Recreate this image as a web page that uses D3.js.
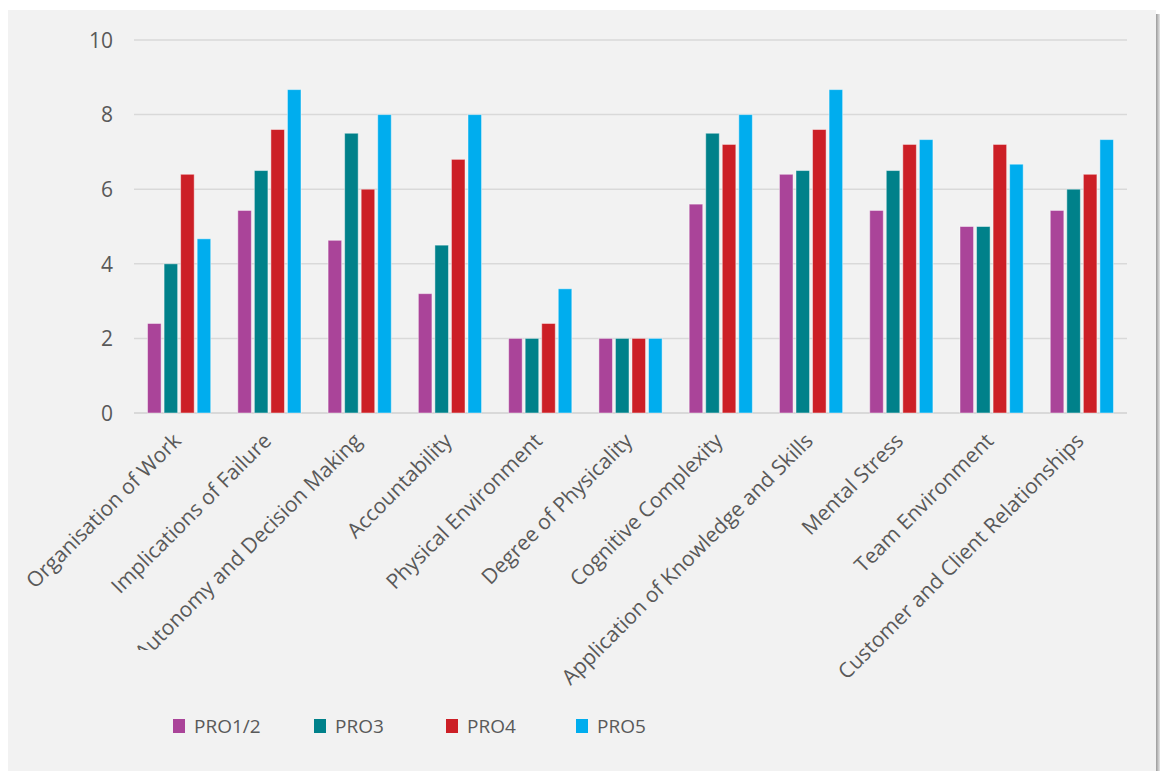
<!DOCTYPE html>
<html>
<head>
<meta charset="utf-8">
<script src="https://cdn.jsdelivr.net/npm/d3@7"></script>
<style>
  body { margin: 0; background: #ffffff; }
  svg text { font-family: "Open Sans", "Noto Sans", sans-serif; fill: #595959; }
</style>
</head>
<body>
<svg id="chart"></svg>
<script>
// 数据
const categories = ["Organisation of Work", "Implications of Failure", "Autonomy and Decision Making",
    "Accountability", "Physical Environment", "Degree of Physicality", "Cognitive Complexity",
    "Application of Knowledge and Skills", "Mental Stress", "Team Environment",
    "Customer and Client Relationships"];
const series = ["PRO1/2", "PRO3", "PRO4", "PRO5"];
const pro12 = [2.4, 5.43, 4.63, 3.2, 2, 2, 5.6, 6.4, 5.43, 5, 5.43];
const pro3 = [4, 6.5, 7.5, 4.5, 2, 2, 7.5, 6.5, 6.5, 5, 6];
const pro4 = [6.4, 7.6, 6, 6.8, 2.4, 2, 7.2, 7.6, 7.2, 7.2, 6.4];
const pro5 = [4.67, 8.67, 8, 8, 3.33, 2, 8, 8.67, 7.33, 6.67, 7.33];
const yTicks = [0, 2, 4, 6, 8, 10];
const colors = ["#aa4499", "#00818a", "#cc1f26", "#00adee"];

let width = 1160, height = 771;
let svg = d3.select('#chart').attr('width', width).attr('height', height);

// 背景面板 + 右侧阴影
let defs = svg.append('defs');
let grad = defs.append('linearGradient').attr('id', 'shadow').attr('x1', 0).attr('x2', 1);
grad.append('stop').attr('offset', 0).attr('stop-color', '#9a9a9a');
grad.append('stop').attr('offset', 1).attr('stop-color', '#e6e6e6');
svg.append('rect').attr('x', 1156).attr('y', 14).attr('width', 4).attr('height', height - 14)
    .attr('fill', 'url(#shadow)');
svg.append('rect').attr('x', 8).attr('y', 10).attr('width', 1148).attr('height', height - 10)
    .attr('fill', '#f2f2f2');

// 比例尺
let x0 = d3.scaleBand().domain(categories).range([134, 1127]).paddingInner(0.3).paddingOuter(0.15);
let x1 = d3.scaleBand().domain(series).range([0, x0.bandwidth()]).paddingInner(0.18).paddingOuter(0);
let y = d3.scaleLinear().domain([0, 10]).range([413, 40]);

// 网格线
svg.append('g')
    .selectAll('line')
    .data(yTicks)
    .join('line')
    .attr('x1', 134).attr('x2', 1127)
    .attr('y1', d => y(d)).attr('y2', d => y(d))
    .attr('stroke', '#d9d9d9')
    .attr('stroke-width', d => d === 0 ? 2 : 1.5);

// y 轴
let yAxis = svg.append('g')
    .attr('transform', 'translate(113,0)')
    .call(d3.axisLeft(y).tickValues(yTicks).tickSize(0).tickPadding(0));
yAxis.select('.domain').remove();
yAxis.selectAll('text').style('font-size', '21px').attr('dy', '0.35em').style('fill', '#595959');

// 柱子
let rows = categories.map((c, i) => ({ cat: c, vals: [pro12[i], pro3[i], pro4[i], pro5[i]] }));
svg.append('g')
    .selectAll('g')
    .data(rows)
    .join('g')
    .attr('transform', d => `translate(${x0(d.cat)},0)`)
    .selectAll('rect')
    .data(d => d.vals.map((v, j) => ({ s: series[j], v: v, c: colors[j] })))
    .join('rect')
    .attr('x', d => x1(d.s))
    .attr('width', x1.bandwidth())
    .attr('y', d => y(d.v))
    .attr('height', d => y(0) - y(d.v))
    .attr('fill', d => d.c)
    .attr('stroke', 'rgba(255,255,255,0.45)')
    .attr('stroke-width', 1);

// x 轴标签（旋转 -45 度）
// Excel 把第三个标签底部截断了，这里用 clipPath 模仿
defs.append('clipPath').attr('id', 'labelclip')
    .append('rect').attr('x', 0).attr('y', 0).attr('width', width).attr('height', 650);
svg.append('g')
    .attr('class', 'xlabels')
    .selectAll('g')
    .data(categories)
    .join('g')
    .attr('clip-path', (d, i) => i === 2 ? 'url(#labelclip)' : null)
    .append('text')
    .attr('transform', d => `translate(${x0(d) + x0.bandwidth() / 2 - 2},437) rotate(-45)`)
    .attr('text-anchor', 'end')
    .attr('dy', '0.35em')
    .style('font-size', '21px')
    .text(d => d);

// 图例
let legendX = [173, 314, 446, 576];
let legend = svg.append('g')
    .selectAll('g')
    .data(series)
    .join('g')
    .attr('transform', (d, i) => `translate(${legendX[i]},719)`);
legend.append('rect').attr('width', 12).attr('height', 14).attr('fill', (d, i) => colors[i]);
legend.append('text').attr('x', 21).attr('y', 7).attr('dy', '0.36em')
    .style('font-size', '19px').text(d => d);
</script>
</body>
</html>
